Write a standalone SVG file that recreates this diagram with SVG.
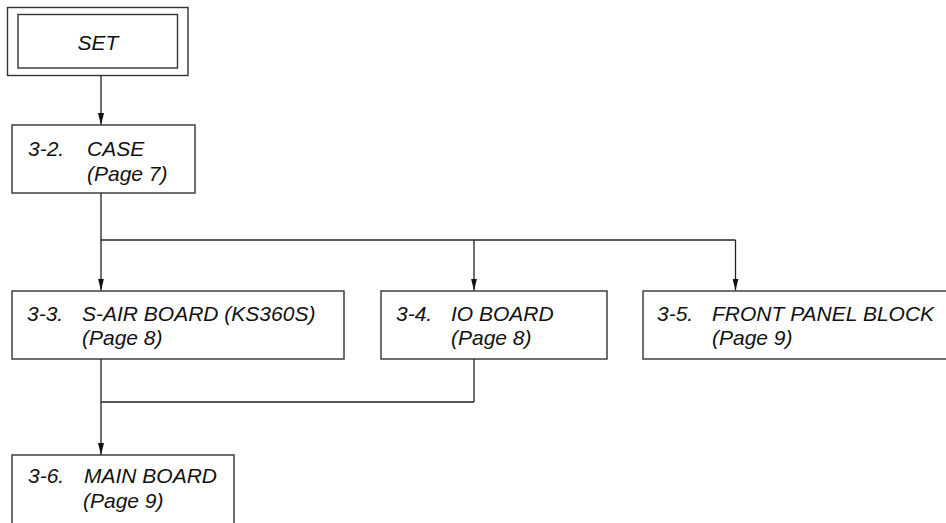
<svg xmlns="http://www.w3.org/2000/svg" width="946" height="523" viewBox="0 0 946 523">
<defs>
<style>
.box{fill:#fff;stroke:#333;stroke-width:1.4}
.ln{fill:none;stroke:#222;stroke-width:1.3}
text{font-family:"Liberation Sans",Arial,sans-serif;font-style:italic;font-size:21px;fill:#111}
</style>
<marker id="ah" viewBox="0 0 6 12" refX="6" refY="6" markerWidth="6" markerHeight="12" markerUnits="userSpaceOnUse" orient="auto-start-reverse">
<path d="M0,0 L0,12 L6,6 Z" fill="#111" transform="rotate(0)"/>
</marker>
<marker id="ad" viewBox="0 0 12 6" refX="12" refY="3" markerWidth="12" markerHeight="6" markerUnits="userSpaceOnUse" orient="auto">
<path d="M0,0 L12,3 L0,6 Z" fill="#111"/>
</marker>
</defs>
<rect width="946" height="523" fill="#fff"/>
<g id="connectors">
<line class="ln" x1="101" y1="76" x2="101" y2="125" marker-end="url(#ad)"/>
<line class="ln" x1="101" y1="193" x2="101" y2="240"/>
<line class="ln" x1="101" y1="240" x2="735.5" y2="240"/>
<line class="ln" x1="101" y1="240" x2="101" y2="290.5" marker-end="url(#ad)"/>
<line class="ln" x1="474" y1="240" x2="474" y2="290.5" marker-end="url(#ad)"/>
<line class="ln" x1="735.5" y1="240" x2="735.5" y2="290.5" marker-end="url(#ad)"/>
<line class="ln" x1="101" y1="359" x2="101" y2="455" marker-end="url(#ad)"/>
<line class="ln" x1="101" y1="402" x2="474" y2="402"/>
<line class="ln" x1="474" y1="359" x2="474" y2="402"/>
</g>
<g id="set">
<rect class="box" x="7.5" y="7.5" width="180.5" height="68"/>
<rect class="box" x="18" y="14.5" width="159.5" height="53.5"/>
<text x="98" y="50" text-anchor="middle">SET</text>
</g>
<g id="case">
<rect class="box" x="12" y="125" width="183" height="68"/>
<text x="28" y="156">3-2.</text>
<text x="87" y="156">CASE</text>
<text x="87" y="181">(Page 7)</text>
</g>
<g id="sair">
<rect class="box" x="12" y="291" width="332" height="68"/>
<text x="27" y="321">3-3.</text>
<text x="82" y="321">S-AIR BOARD (KS360S)</text>
<text x="82" y="345">(Page 8)</text>
</g>
<g id="io">
<rect class="box" x="381" y="291" width="226" height="68"/>
<text x="396" y="321">3-4.</text>
<text x="451" y="321">IO BOARD</text>
<text x="451" y="345">(Page 8)</text>
</g>
<g id="front">
<rect class="box" x="643" y="291" width="320" height="68"/>
<text x="657" y="321">3-5.</text>
<text x="712" y="321">FRONT PANEL BLOCK</text>
<text x="712" y="345">(Page 9)</text>
</g>
<g id="main">
<rect class="box" x="12" y="455" width="222" height="90"/>
<text x="28" y="483">3-6.</text>
<text x="84" y="483">MAIN BOARD</text>
<text x="83" y="508">(Page 9)</text>
</g>
</svg>
